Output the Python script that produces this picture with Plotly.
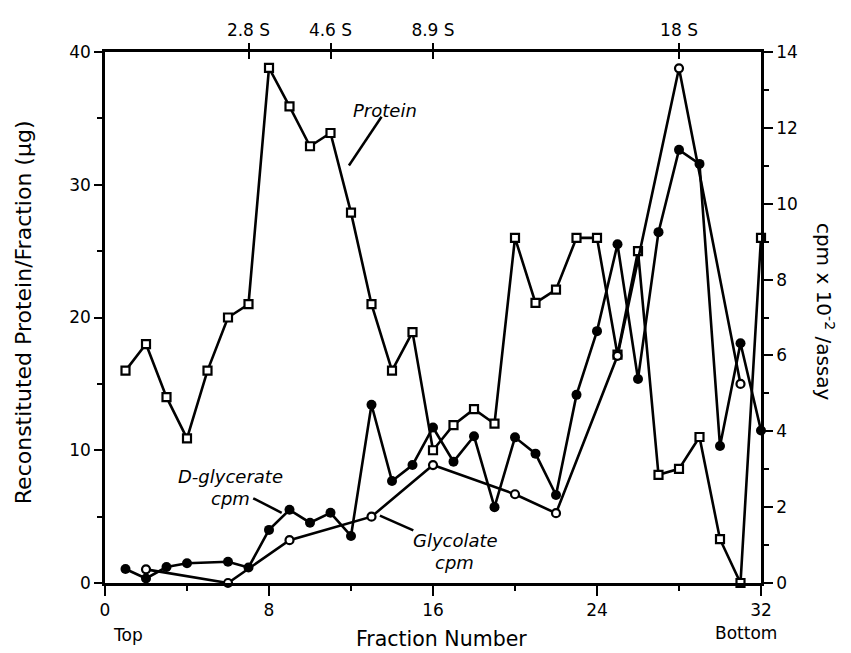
import plotly.graph_objects as go

# ---- data ----
protein_fraction = list(range(1, 33))
protein_ug = [16, 18, 14, 10.9, 16, 20, 21, 38.8, 35.9, 32.9, 33.9, 27.9, 21, 16, 18.9, 10,
              11.9, 13.1, 12, 26, 21.1, 22.1, 26, 26, 17.2, 25, 8.15, 8.6, 11, 3.3, 0, 26]

dglyc_fraction = [1, 2, 3, 4, 6, 7, 8, 9, 10, 11, 12, 13, 14, 15, 16, 17, 18, 19, 20, 21, 22,
                  23, 24, 25, 26, 27, 28, 29, 30, 31, 32]
dglyc_cpm = [0.37, 0.12, 0.42, 0.52, 0.56, 0.41, 1.40, 1.93, 1.59, 1.85, 1.24, 4.70, 2.69, 3.11,
             4.10, 3.20, 3.87, 2.0, 3.84, 3.41, 2.32, 4.96, 6.64, 8.93, 5.38, 9.25, 11.42, 11.05,
             3.61, 6.32, 4.02]

glycolate_fraction = [2, 6, 9, 13, 16, 20, 22, 25, 28, 31]
glycolate_cpm = [0.36, 0, 1.13, 1.75, 3.11, 2.34, 1.84, 5.99, 13.57, 5.25]

bottom_ticks = [0, 8, 16, 24, 32]
top_tick_pos = [7, 11, 16, 28]
top_tick_labels = ["2.8 S", "4.6 S", "8.9 S", "18 S"]
left_ticks = [0, 10, 20, 30, 40]
right_ticks = [0, 2, 4, 6, 8, 10, 12, 14]

FONT = "DejaVu Sans"
BLACK = "black"

fig = go.Figure()

fig.add_trace(go.Scatter(
    x=protein_fraction, y=protein_ug, mode="lines+markers", name="Protein",
    line=dict(color=BLACK, width=2.6),
    marker=dict(symbol="square", size=8, color="white", line=dict(color=BLACK, width=2.2)),
    cliponaxis=False, yaxis="y"))

fig.add_trace(go.Scatter(
    x=dglyc_fraction, y=dglyc_cpm, mode="lines+markers", name="D-glycerate cpm",
    line=dict(color=BLACK, width=2.6),
    marker=dict(symbol="circle", size=10, color=BLACK),
    cliponaxis=False, yaxis="y2"))

fig.add_trace(go.Scatter(
    x=glycolate_fraction, y=glycolate_cpm, mode="lines+markers", name="Glycolate cpm",
    line=dict(color=BLACK, width=2.6),
    marker=dict(symbol="circle", size=8, color="white", line=dict(color=BLACK, width=2.2)),
    cliponaxis=False, yaxis="y2"))

tickfont = dict(family=FONT, size=17, color=BLACK)

# the page body adds an 8px offset, so the figure is 8px smaller than the window
fig.update_layout(
    width=843, height=645,
    margin=dict(l=97, r=90, t=40, b=70),
    paper_bgcolor="white", plot_bgcolor="white",
    showlegend=False,
    font=dict(family=FONT, color=BLACK),
    xaxis=dict(range=[0, 32], tickvals=bottom_ticks, ticks="outside", ticklen=10, tickwidth=2,
               minor=dict(tickvals=[4, 12, 20, 28], ticks="outside", ticklen=5, tickwidth=2,
                          tickcolor=BLACK),
               showline=True, linewidth=2.5, linecolor=BLACK, tickcolor=BLACK,
               showgrid=False, zeroline=False, tickfont=tickfont),
    xaxis2=dict(range=[0, 32], overlaying="x", side="top", tickvals=top_tick_pos,
                ticktext=top_tick_labels, ticks="outside", ticklen=6, tickwidth=2,
                tickcolor=BLACK, showline=True, linewidth=2.5, linecolor=BLACK,
                showgrid=False, zeroline=False, tickfont=tickfont),
    xaxis3=dict(range=[0, 32], overlaying="x", side="top", tickvals=top_tick_pos,
                ticks="inside", ticklen=7, tickwidth=2, tickcolor=BLACK,
                showticklabels=False, showline=False, showgrid=False, zeroline=False),
    yaxis=dict(range=[0, 40], tickvals=left_ticks, ticks="outside", ticklen=8, tickwidth=2,
               minor=dict(tickvals=[5, 15, 25, 35], ticks="outside", ticklen=5, tickwidth=2,
                          tickcolor=BLACK),
               showline=True, linewidth=2.5, linecolor=BLACK, tickcolor=BLACK,
               showgrid=False, zeroline=False, tickfont=tickfont),
    yaxis2=dict(range=[0, 14], overlaying="y", side="right", tickvals=right_ticks,
                ticks="outside", ticklen=9, tickwidth=2,
                minor=dict(tickvals=[1, 3, 5, 7, 9, 11, 13], ticks="outside", ticklen=5,
                           tickwidth=2, tickcolor=BLACK),
                showline=True, linewidth=2.5, linecolor=BLACK, tickcolor=BLACK,
                showgrid=False, zeroline=False, tickfont=tickfont),
)

# invisible traces to activate the top axes
fig.add_trace(go.Scatter(x=[0], y=[0], xaxis="x2", mode="markers",
                         marker=dict(opacity=0), hoverinfo="skip", showlegend=False))
fig.add_trace(go.Scatter(x=[0], y=[0], xaxis="x3", mode="markers",
                         marker=dict(opacity=0), hoverinfo="skip", showlegend=False))

labfont = dict(family=FONT, size=18, color=BLACK)

def ann(text, x, y, xref="x", yref="y", font=labfont, angle=0):
    fig.add_annotation(text=text, x=x, y=y, xref=xref, yref=yref, showarrow=False,
                       font=font, textangle=angle, xanchor="center", yanchor="middle")

ann("<i>Protein</i>", 13.66, 35.6)
ann("<i>D-glycerate</i>", 6.1, 8.0)
ann("<i>cpm</i>", 6.1, 6.35)
ann("<i>Glycolate</i>", 17.1, 3.23)
ann("<i>cpm</i>", 17.05, 1.56)
ann("Top", 1.12, -0.097, yref="paper", font=dict(family=FONT, size=17, color=BLACK))
ann("Bottom", 31.25, -0.095, yref="paper", font=dict(family=FONT, size=17, color=BLACK))
ann("Fraction Number", 16.4, -0.105, yref="paper",
    font=dict(family=FONT, size=20.5, color=BLACK))
ann("Reconstituted Protein/Fraction (µg)", -0.125, 0.51, xref="paper", yref="paper",
    font=dict(family=FONT, size=22, color=BLACK), angle=-90)
ann("cpm x 10<sup>-2</sup> /assay", 1.098, 0.51, xref="paper", yref="paper",
    font=dict(family=FONT, size=20, color=BLACK), angle=90)

def leader(x0, y0, x1, y1):
    fig.add_shape(type="line", x0=x0, y0=y0, x1=x1, y1=y1, xref="x", yref="y",
                  line=dict(color=BLACK, width=2.5))

leader(13.49, 35.12, 11.90, 31.45)
leader(7.23, 6.38, 8.62, 5.29)
leader(13.41, 5.08, 15.04, 3.96)

fig.write_html("out.html")
